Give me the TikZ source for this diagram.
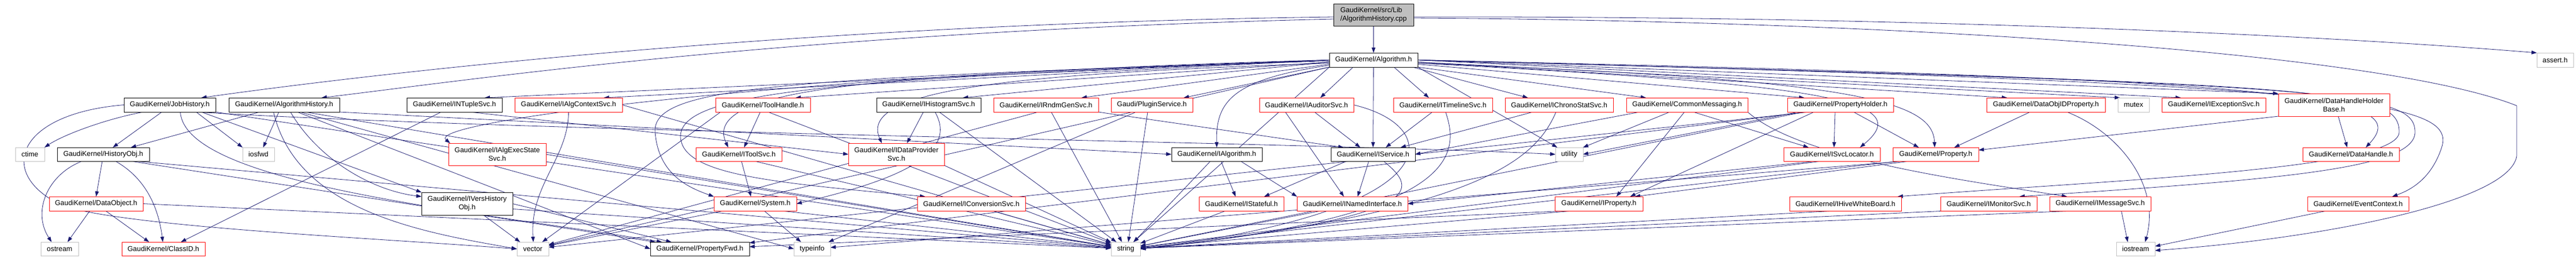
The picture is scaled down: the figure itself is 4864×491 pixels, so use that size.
\documentclass[tikz,border=0pt]{standalone}
\usepackage{fontspec}
\setmainfont{Liberation Sans}
\usetikzlibrary{arrows.meta}
\definecolor{edgec}{HTML}{191970}
\definecolor{grayb}{HTML}{BFBFBF}
\definecolor{redb}{HTML}{FF0000}
\pgfdeclarelayer{bg}
\pgfsetlayers{bg,main}
\newcommand\mknode[7]{\node[#6,minimum width={(#4-#2)*1pt},minimum height={(#5-#3)*1pt}] (#1) at ({(#2+#4)/2},{(#3+#5)/2}) {#7};}
\tikzset{
  bx/.style={draw, rectangle, inner sep=0pt, outer sep=0pt, line width=1pt, fill=white, align=center, font=\fontsize{13.3}{16}\selectfont},
  kbox/.style={bx, draw=black},
  rbox/.style={bx, draw=redb},
  gbox/.style={bx, draw=grayb},
  rootbox/.style={bx, draw=black, fill=grayb, align=left},
  edg/.style={draw=edgec, line width=0.8pt, -{Triangle[length=10pt,width=7pt]}}
}
\begin{document}
\begin{tikzpicture}[x=1pt,y=-1pt]
\useasboundingbox (0,0) rectangle (4864,491);
% row 0/1
\mknode{R}{2518}{7}{2669}{49}{rootbox}{GaudiKernel/src/Lib\\/AlgorithmHistory.cpp}
\mknode{Alg}{2510}{100}{2677}{127}{kbox}{GaudiKernel/Algorithm.h}
\mknode{AS}{4790}{100}{4859}{127}{gbox}{assert.h}
% row 2
\mknode{JH}{234}{185}{407}{212}{kbox}{GaudiKernel/JobHistory.h}
\mknode{AH}{432}{185}{641}{212}{kbox}{GaudiKernel/AlgorithmHistory.h}
\mknode{NT}{768}{185}{948}{212}{kbox}{GaudiKernel/INTupleSvc.h}
\mknode{ACS}{972}{185}{1175}{212}{rbox}{GaudiKernel/IAlgContextSvc.h}
\mknode{TH}{1351}{185}{1530}{212}{rbox}{GaudiKernel/ToolHandle.h}
\mknode{HS}{1655}{185}{1852}{212}{kbox}{GaudiKernel/IHistogramSvc.h}
\mknode{RG}{1876}{185}{2074}{212}{rbox}{GaudiKernel/IRndmGenSvc.h}
\mknode{PS}{2098}{185}{2252}{212}{rbox}{Gaudi/PluginService.h}
\mknode{AUD}{2378}{185}{2556}{212}{rbox}{GaudiKernel/IAuditorSvc.h}
\mknode{TL}{2631}{185}{2818}{212}{rbox}{GaudiKernel/ITimelineSvc.h}
\mknode{CS}{2842}{185}{3046}{212}{rbox}{GaudiKernel/IChronoStatSvc.h}
\mknode{CM}{3071}{185}{3300}{212}{rbox}{GaudiKernel/CommonMessaging.h}
\mknode{PH}{3375}{185}{3575}{212}{rbox}{GaudiKernel/PropertyHolder.h}
\mknode{DOP}{3751}{185}{3975}{212}{rbox}{GaudiKernel/DataObjIDProperty.h}
\mknode{MX}{3999}{185}{4058}{212}{gbox}{mutex}
\mknode{ES}{4082}{185}{4278}{212}{rbox}{GaudiKernel/IExceptionSvc.h}
\mknode{DHB}{4302}{177}{4512}{220}{rbox}{GaudiKernel/DataHandleHolder\\Base.h}
% row 3
\mknode{CT}{29}{279}{84}{305}{gbox}{ctime}
\mknode{HO}{108}{279}{282}{305}{kbox}{GaudiKernel/HistoryObj.h}
\mknode{IF}{458}{279}{518}{305}{gbox}{iosfwd}
\mknode{AES}{847}{271}{1031}{313}{rbox}{GaudiKernel/IAlgExecState\\Svc.h}
\mknode{TS}{1314}{279}{1476}{305}{rbox}{GaudiKernel/IToolSvc.h}
\mknode{DP}{1602}{271}{1783}{313}{rbox}{GaudiKernel/IDataProvider\\Svc.h}
\mknode{IA}{2212}{279}{2383}{305}{kbox}{GaudiKernel/IAlgorithm.h}
\mknode{SV}{2513}{279}{2672}{305}{kbox}{GaudiKernel/IService.h}
\mknode{UT}{2937}{279}{2989}{305}{gbox}{utility}
\mknode{SL}{3368}{279}{3550}{305}{rbox}{GaudiKernel/ISvcLocator.h}
\mknode{PR}{3574}{279}{3736}{305}{rbox}{GaudiKernel/Property.h}
\mknode{DH}{4348}{279}{4530}{305}{rbox}{GaudiKernel/DataHandle.h}
% row 4
\mknode{DO}{93}{372}{270}{399}{rbox}{GaudiKernel/DataObject.h}
\mknode{VH}{796}{364}{968}{407}{kbox}{GaudiKernel/IVersHistory\\Obj.h}
\mknode{SY}{1348}{372}{1504}{399}{rbox}{GaudiKernel/System.h}
\mknode{CV}{1732}{372}{1936}{399}{rbox}{GaudiKernel/IConversionSvc.h}
\mknode{ST}{2264}{372}{2424}{399}{rbox}{GaudiKernel/IStateful.h}
\mknode{NI}{2449}{372}{2658}{399}{rbox}{GaudiKernel/INamedInterface.h}
\mknode{IP}{2936}{372}{3102}{399}{rbox}{GaudiKernel/IProperty.h}
\mknode{HW}{3379}{372}{3590}{399}{rbox}{GaudiKernel/IHiveWhiteBoard.h}
\mknode{MS}{3664}{372}{3846}{399}{rbox}{GaudiKernel/IMonitorSvc.h}
\mknode{MG}{3870}{372}{4061}{399}{rbox}{GaudiKernel/IMessageSvc.h}
\mknode{EC}{4357}{372}{4548}{399}{rbox}{GaudiKernel/EventContext.h}
% row 5
\mknode{OS}{77}{458}{148}{484}{gbox}{ostream}
\mknode{CID}{230}{458}{387}{484}{rbox}{GaudiKernel/ClassID.h}
\mknode{VEC}{976}{458}{1036}{484}{gbox}{vector}
\mknode{PF}{1228}{458}{1415}{484}{kbox}{GaudiKernel/PropertyFwd.h}
\mknode{TI}{1499}{458}{1568}{484}{gbox}{typeinfo}
\mknode{STR}{2098}{458}{2153}{484}{gbox}{string}
\mknode{IOS}{3996}{458}{4069}{484}{gbox}{iostream}

\begin{pgfonlayer}{bg}
% root
\draw[edg] (R) -- (Alg);
\draw[edg] ([yshift=-4pt]R.west) .. controls (1500,45) and (700,140) .. ([xshift=-27pt]JH.north east);
\draw[edg] ([yshift=-8pt]R.west) .. controls (1500,60) and (900,150) .. ([xshift=-34pt]AH.north east);
\draw[edg] ([yshift=-4pt]R.east) .. controls (3500,30) and (4300,60) .. (AS.north west);
\draw[edg] ([yshift=-6pt]R.east) .. controls (3600,40) and (4500,100) .. (4752,200) -- (4752,295) .. controls (4740,380) and (4400,450) .. ([yshift=-3pt]IOS.east);
% Algorithm.h -> row 2
\draw[edg] (Alg.west) -- ([xshift=-33pt]NT.north east);
\draw[edg] (Alg.west) -- ([xshift=-35pt]ACS.north east);
\draw[edg] ([yshift=-4pt]Alg.west) -- ([xshift=-28pt]TH.north east);
\draw[edg] ([yshift=-4pt]Alg.west) -- ([xshift=-34pt]HS.north east);
\draw[edg] ([yshift=-8pt]Alg.west) -- ([xshift=-32pt]RG.north east);
\draw[edg] (Alg.south west) -- ([xshift=-17pt]PS.north east);
\draw[edg] ([xshift=45pt]Alg.south west) -- ([xshift=-63pt]AUD.north east);
\draw[edg] ([xshift=-45pt]Alg.south east) -- ([xshift=67pt]TL.north west);
\draw[edg] ([xshift=-10pt]Alg.south east) -- ([xshift=43pt]CS.north west);
\draw[edg] (Alg.south east) -- ([xshift=37pt]CM.north west);
\draw[edg] ([yshift=-8pt]Alg.east) -- ([xshift=32pt]PH.north west);
\draw[edg] ([yshift=-4pt]Alg.east) -- ([xshift=39pt]DOP.north west);
\draw[edg] ([yshift=-4pt]Alg.east) -- ([xshift=4pt]MX.north west);
\draw[edg] (Alg.east) -- ([xshift=36pt]ES.north west);
\draw[edg] (Alg.east) -- (DHB.north west);
% Algorithm.h -> lower rows
\draw[edg] (Alg.west) .. controls (1500,140) and (800,230) .. ([xshift=3pt]AES.north west);
\draw[edg] ([yshift=-2pt]Alg.west) .. controls (1700,140) and (1320,160) .. ([xshift=61pt]TS.north west);
\draw[edg] ([yshift=-6pt]Alg.west) .. controls (1900,140) and (1620,170) .. ([xshift=63pt]DP.north west);
\draw[edg] ([yshift=-10pt]Alg.west) .. controls (2330,150) and (2295,190) .. (IA.north);
\draw[edg] (Alg.west) .. controls (1500,150) and (1230,160) .. (1237,250) .. controls (1243,330) and (1300,355) .. (SY.north west);
\draw[edg] (Alg.west) .. controls (1600,150) and (1280,170) .. (1285,260) .. controls (1290,330) and (1450,345) .. ([xshift=15pt]CV.north west);
\draw[edg] (Alg) -- (SV);
\draw[edg] ([yshift=-6pt]Alg.east) .. controls (3450,160) and (3620,190) .. ([xshift=144pt]SL.north west);
\draw[edg] ([yshift=-6pt]Alg.east) .. controls (3500,150) and (3650,190) .. ([xshift=79pt]PR.north west);
\draw[edg] (Alg.east) .. controls (4350,150) and (4560,180) .. ([xshift=119pt]DH.north west);
\draw[edg] (Alg.east) .. controls (4450,160) and (4640,190) .. (4610,280) .. controls (4590,340) and (4550,360) .. ([xshift=160pt]EC.north west);
\draw[edg] (Alg.east) .. controls (4400,160) and (4560,170) .. (4560,250) .. controls (4560,320) and (4300,340) .. ([xshift=149pt]MS.north west);
\draw[edg] (Alg.east) .. controls (4400,160) and (4530,165) .. (4530,250) .. controls (4530,320) and (4000,340) .. ([xshift=204pt]HW.north west);
\draw[edg] (Alg.south west) -- (VEC);
\draw[edg] (Alg.south west) -- (STR);
\draw[edg] (Alg.south east) -- (UT);
% JobHistory.h
\draw[edg] ([xshift=-15pt]JH.south) -- ([xshift=18pt]HO.north);
\draw[edg] ([xshift=-50pt]JH.south) .. controls (200,225) and (120,255) .. (CT.north east);
\draw[edg] ([xshift=50pt]JH.south) -- (IF.north west);
\draw[edg] ([xshift=60pt]JH.south) -- (VH.north west);
\draw[edg] ([xshift=20pt]JH.south) .. controls (350,350) and (900,400) .. ([xshift=22pt]PF.north west);
\draw[edg] (JH.south east) -- (STR);
\draw[edg] ([xshift=-35pt]JH.south east) .. controls (1000,250) and (2500,270) .. (UT.west);
\draw[edg] (JH.west) .. controls (30,215) and (-10,330) .. (120,390) .. controls (250,430) and (700,450) .. (VEC.west);
% AlgorithmHistory.h
\draw[edg] ([xshift=58pt]AH.south west) -- ([xshift=52pt]HO.north);
\draw[edg] ([xshift=-10pt]AH.south) -- ([xshift=9pt]IF.north);
\draw[edg] ([xshift=12pt]AH.south) .. controls (600,300) and (700,360) .. ([yshift=-8pt]VH.north west);
\draw[edg] ([xshift=25pt]AH.south) -- (PF.west);
\draw[edg] ([xshift=40pt]AH.south) -- (STR);
\draw[edg] ([xshift=30pt]AH.south) -- (TI.west);
\draw[edg] ([xshift=-20pt]AH.south) .. controls (560,400) and (800,440) .. (VEC.west);
\draw[edg] (AH.south east) -- (IA.west);
% HistoryObj.h / DataObject.h / IVersHistoryObj.h
\draw[edg] ([xshift=-2pt]HO.south) -- (DO.north);
\draw[edg] ([xshift=-40pt]HO.south) .. controls (90,330) and (60,400) .. ([xshift=-15pt]OS.north);
\draw[edg] ([xshift=23pt]HO.south) .. controls (280,340) and (300,400) .. ([xshift=-1pt]CID.north);
\draw[edg] ([xshift=52pt]HO.south) -- (PF);
\draw[edg] ([xshift=60pt]HO.south) -- (STR);
\draw[edg] ([xshift=-12pt]DO.south) -- ([xshift=15pt]OS.north);
\draw[edg] ([xshift=18pt]DO.south) -- ([xshift=-27pt]CID.north);
\draw[edg] (DO.east) -- (STR);
\draw[edg] ([xshift=31pt]VH.south) -- ([xshift=-24pt]VEC.north);
\draw[edg] (VH.east) -- (PF);
\draw[edg] ([yshift=-10pt]VH.east) -- (STR);
% INTupleSvc / IAlgContextSvc / ToolHandle / IToolSvc / System
\draw[edg] ([xshift=30pt]NT.south) -- (DP.west);
\draw[edg] ([xshift=-25pt]NT.south) -- ([xshift=33pt]CID.north);
\draw[edg] (ACS.south) .. controls (1073,300) and (1000,350) .. ([xshift=1pt]VEC.north);
\draw[edg] (ACS.east) -- (STR);
\draw[edg] ([xshift=-5pt]TH.south) -- ([xshift=10pt]TS.north);
\draw[edg] ([xshift=10pt]TH.south) -- (STR);
\draw[edg] ([xshift=-80pt]TH.south) -- (VEC);
\draw[edg] ([xshift=5pt]TS.south) -- ([xshift=-8pt]SY.north);
\draw[edg] ([xshift=30pt]TS.south) -- (STR);
\draw[edg] ([xshift=17pt]SY.south) -- ([xshift=-21pt]TI.north);
\draw[edg] ([xshift=-60pt]SY.south) -- (VEC);
\draw[edg] ([xshift=50pt]SY.south) -- (STR);
% IHistogramSvc / IRndmGenSvc / PluginService
\draw[edg] ([xshift=-10pt]HS.south) -- ([xshift=20pt]DP.north);
\draw[edg] ([xshift=20pt]HS.south) -- (STR);
\draw[edg] ([xshift=12pt]HS.south) .. controls (1810,290) and (1700,340) .. (SY.east);
\draw[edg] ([xshift=-15pt]RG.south) -- (VEC);
\draw[edg] ([xshift=10pt]RG.south) -- (STR);
\draw[edg] (RG.south east) -- ([xshift=24pt]SV.north west);
\draw[edg] ([xshift=-8pt]PS.south) -- ([xshift=5pt]STR.north);
\draw[edg] ([xshift=-30pt]PS.south) -- (TI);
% IAuditorSvc / ITimelineSvc / IChronoStatSvc
\draw[edg] ([xshift=15pt]AUD.south) -- ([xshift=-24pt]SV.north);
\draw[edg] (AUD.east) .. controls (2730,240) and (2740,400) .. (STR.east);
\draw[edg] ([xshift=-40pt]AUD.south) -- ([xshift=-16pt]NI.north);
\draw[edg] ([xshift=-20pt]TL.south) -- ([xshift=24pt]SV.north);
\draw[edg] ([xshift=5pt]TL.south) .. controls (2760,300) and (2740,410) .. (STR.east);
\draw[edg] ([xshift=-50pt]CS.south) -- ([xshift=52pt]SV.north);
\draw[edg] ([xshift=-6pt]CS.south) .. controls (2900,300) and (2800,400) .. (STR.east);
% CommonMessaging / PropertyHolder / DataObjIDProperty / DataHandleHolderBase
\draw[edg] ([xshift=-33pt]CM.south) -- (UT.north east);
\draw[edg] ([xshift=12pt]CM.south) -- ([xshift=47pt]SL.north west);
\draw[edg] (CM.south east) .. controls (3400,300) and (3700,340) .. ([xshift=33pt]MG.north west);
\draw[edg] ([xshift=-90pt]CM.south) -- (SV.east);
\draw[edg] ([xshift=-5pt]CM.south) -- ([xshift=33pt]IP.north);
\draw[edg] ([xshift=-10pt]PH.south) -- ([xshift=4pt]SL.north);
\draw[edg] ([xshift=25pt]PH.south) -- ([xshift=49pt]PR.north west);
\draw[edg] ([xshift=-50pt]PH.south) -- ([xshift=59pt]IP.north);
\draw[edg] ([xshift=-80pt]PH.south) -- (UT.east);
\draw[edg] ([xshift=-70pt]PH.south) -- (STR);
\draw[edg] ([xshift=-60pt]PH.south) -- (VEC);
\draw[edg] ([xshift=-65pt]PH.south) -- (PF);
\draw[edg] ([xshift=-30pt]DOP.south) -- ([xshift=116pt]PR.north west);
\draw[edg] ([xshift=40pt]DOP.south) .. controls (4000,250) and (4080,350) .. ([xshift=18pt]IOS.north);
\draw[edg] ([xshift=8pt]DHB.south) -- ([xshift=-7pt]DH.north);
\draw[edg] (DHB.south west) -- ([yshift=8pt]PR.east);
% IAlgorithm / IService / row 4 to bottom
\draw[edg] ([xshift=8pt]IA.south) -- ([xshift=-11pt]ST.north);
\draw[edg] ([xshift=-12pt]IA.south) -- ([xshift=15pt]STR.north);
\draw[edg] ([xshift=45pt]IA.south) -- (NI.north west);
\draw[edg] ([xshift=-8pt]SV.south) -- ([xshift=10pt]NI.north);
\draw[edg] ([xshift=-50pt]SV.south) -- ([xshift=43pt]ST.north);
\draw[edg] ([xshift=20pt]SV.south) .. controls (2680,360) and (2700,410) .. (STR.east);
\draw[edg] ([xshift=-30pt]ST.south) -- (STR);
\draw[edg] ([xshift=-60pt]NI.south) -- (STR);
\draw[edg] ([xshift=-50pt]IP.south) -- (STR);
\draw[edg] ([xshift=-60pt]IP.south) -- (PF);
\draw[edg] ([xshift=-50pt]PR.south) -- ([xshift=68pt]IP.north);
\draw[edg] ([xshift=-70pt]PR.south) -- (STR);
\draw[edg] ([xshift=-60pt]PR.south) -- (TI);
\draw[edg] ([xshift=-20pt]SL.south) -- (STR);
\draw[edg] ([xshift=-30pt]SL.south) -- (NI.east);
\draw[edg] ([xshift=-20pt]HW.south) -- (STR);
\draw[edg] ([xshift=-80pt]MS.south) -- (STR);
\draw[edg] ([xshift=40pt]MG.south) -- ([xshift=-15pt]IOS.north);
\draw[edg] ([xshift=-50pt]MG.south) -- (STR);
\draw[edg] ([xshift=-60pt]EC.south) -- ([yshift=5pt]IOS.east);
\draw[edg] (DP.south east) -- (STR);
\draw[edg] ([xshift=40pt]CV.south) -- (STR);
\draw[edg] (AES.east) -- (STR);
\end{pgfonlayer}
\end{tikzpicture}
\end{document}
